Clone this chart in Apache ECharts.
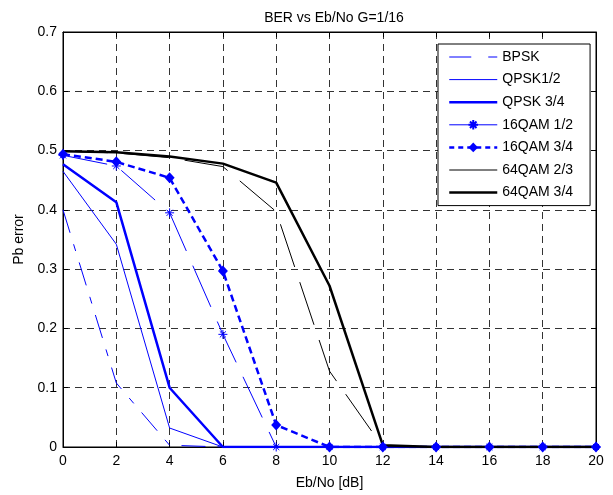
<!DOCTYPE html>
<html>
<head>
<meta charset="utf-8">
<script src="https://cdn.jsdelivr.net/npm/echarts@6/dist/echarts.min.js"></script>
<style>
html,body{margin:0;padding:0;background:#fff;}
#chart{width:613px;height:495px;}
</style>
</head>
<body>
<div id="chart"></div>
<script>
const ebno = [0, 2, 4, 6, 8, 10, 12, 14, 16, 18, 20];
const xTicks = ['0','2','4','6','8','10','12','14','16','18','20'];
const yTicks = ['0','0.1','0.2','0.3','0.4','0.5','0.6','0.7'];
const bpsk     = [0.400, 0.108, 0.003, 0, 0, 0, 0, 0, 0, 0, 0];
const qpsk12   = [0.465, 0.342, 0.032, 0, 0, 0, 0, 0, 0, 0, 0];
const qpsk34   = [0.477, 0.413, 0.100, 0, 0, 0, 0, 0, 0, 0, 0];
const qam16_12 = [0.492, 0.474, 0.395, 0.190, 0, 0, 0, 0, 0, 0, 0];
const qam16_34 = [0.494, 0.481, 0.454, 0.297, 0.037, 0, 0, 0, 0, 0, 0];
const qam64_23 = [0.499, 0.496, 0.488, 0.473, 0.397, 0.128, 0, 0, 0, 0, 0];
const qam64_34 = [0.499, 0.497, 0.490, 0.478, 0.446, 0.272, 0.003, 0, 0, 0, 0];

const FONT = 'Arial, "Liberation Sans", sans-serif';
const BLUE = '#0000ff';
const BLACK = '#000000';
const pairs = arr => ebno.map((x, i) => [x, arr[i]]);
const star = 'path://M5,0L5,10M0,5L10,5M1.6,1.6L8.4,8.4M1.6,8.4L8.4,1.6';

const chart = echarts.init(document.getElementById('chart'), null, {renderer: 'canvas'});
const gridLine = {show: true, lineStyle: {color: '#333', width: 1, type: [7, 5]}};

function mk(name, data, color, width, type, symbol, symbolSize) {
  return {
    name: name, type: 'line', data: pairs(data),
    symbol: symbol || 'none', symbolSize: symbolSize || 0, showSymbol: !!symbol,
    lineStyle: {color: color, width: width, type: type},
    itemStyle: {color: color, borderColor: color, borderWidth: symbol === star ? 1 : 0},
    z: 3
  };
}
const noMark = {opacity: 0, color: 'transparent', borderWidth: 0};

chart.setOption({
  animation: false,
  backgroundColor: '#fff',
  title: {
    text: 'BER vs Eb/No G=1/16', left: 329, top: 6, textAlign: 'center',
    textStyle: {fontFamily: FONT, fontSize: 14, fontWeight: 'normal', color: BLACK}
  },
  grid: {left: 63, right: 17, top: 32, bottom: 43, show: true, borderColor: BLACK, borderWidth: 1},
  legend: {
    orient: 'vertical', left: 438, top: 44,
    backgroundColor: '#fff', borderColor: BLACK, borderWidth: 1,
    padding: [6, 17, 6, 10],
    itemWidth: 48, itemHeight: 12, itemGap: 8.6,
    textStyle: {fontFamily: FONT, fontSize: 14, color: BLACK},
    data: [
      {name: 'BPSK', itemStyle: noMark, lineStyle: {width: 1, type: [22, 17, 9, 17]}},
      {name: 'QPSK1/2', itemStyle: noMark, lineStyle: {width: 1}},
      {name: 'QPSK 3/4', itemStyle: noMark, lineStyle: {width: 2.5}},
      {name: '16QAM 1/2', lineStyle: {type: 'solid', width: 1}},
      {name: '16QAM 3/4', lineStyle: {width: 2.5, type: [5, 4]}},
      {name: '64QAM 2/3', lineStyle: {type: 'solid', width: 1}, itemStyle: noMark},
      {name: '64QAM 3/4', itemStyle: noMark, lineStyle: {width: 2.5}}
    ]
  },
  xAxis: [{
    type: 'value', min: 0, max: 20, interval: 2, position: 'bottom',
    name: 'Eb/No [dB]', nameLocation: 'middle', nameGap: 29,
    nameTextStyle: {fontFamily: FONT, fontSize: 14, color: BLACK},
    axisLine: {show: true, onZero: false, lineStyle: {color: BLACK, width: 1}},
    axisTick: {show: true, inside: true, length: 5, lineStyle: {color: BLACK}},
    axisLabel: {fontFamily: FONT, fontSize: 14, color: BLACK, margin: 7,
      formatter: v => xTicks[ebno.indexOf(v)] !== undefined ? xTicks[ebno.indexOf(v)] : String(v)},
    splitLine: gridLine
  }, {
    type: 'value', min: 0, max: 20, interval: 2, position: 'top',
    axisLine: {show: true, onZero: false, lineStyle: {color: BLACK, width: 1}},
    axisTick: {show: true, inside: true, length: 5, lineStyle: {color: BLACK}},
    axisLabel: {show: false}, splitLine: {show: false}
  }],
  yAxis: [{
    type: 'value', min: 0, max: 0.7, interval: 0.1, position: 'left',
    name: 'Pb error', nameLocation: 'middle', nameGap: 37, nameRotate: 90,
    nameTextStyle: {fontFamily: FONT, fontSize: 14, color: BLACK},
    axisLine: {show: true, onZero: false, lineStyle: {color: BLACK, width: 1}},
    axisTick: {show: true, inside: true, length: 5, lineStyle: {color: BLACK}},
    axisLabel: {fontFamily: FONT, fontSize: 14, color: BLACK, margin: 6,
      formatter: v => yTicks[Math.round(v * 10)]},
    splitLine: gridLine
  }, {
    type: 'value', min: 0, max: 0.7, interval: 0.1, position: 'right',
    axisLine: {show: true, onZero: false, lineStyle: {color: BLACK, width: 1}},
    axisTick: {show: true, inside: true, length: 5, lineStyle: {color: BLACK}},
    axisLabel: {show: false}, splitLine: {show: false}
  }],
  series: [
    mk('BPSK', bpsk, BLUE, 1, [24, 12, 7, 12]),
    mk('QPSK1/2', qpsk12, BLUE, 1, 'solid'),
    mk('QPSK 3/4', qpsk34, BLUE, 2.5, 'solid'),
    mk('16QAM 1/2', qam16_12, BLUE, 1, [45, 16], star, 9),
    mk('16QAM 3/4', qam16_34, BLUE, 2.5, [7, 4], 'diamond', [10, 11]),
    mk('64QAM 2/3', qam64_23, BLACK, 1, [45, 16]),
    mk('64QAM 3/4', qam64_34, BLACK, 2.5, 'solid')
  ]
});
</script>
</body>
</html>
